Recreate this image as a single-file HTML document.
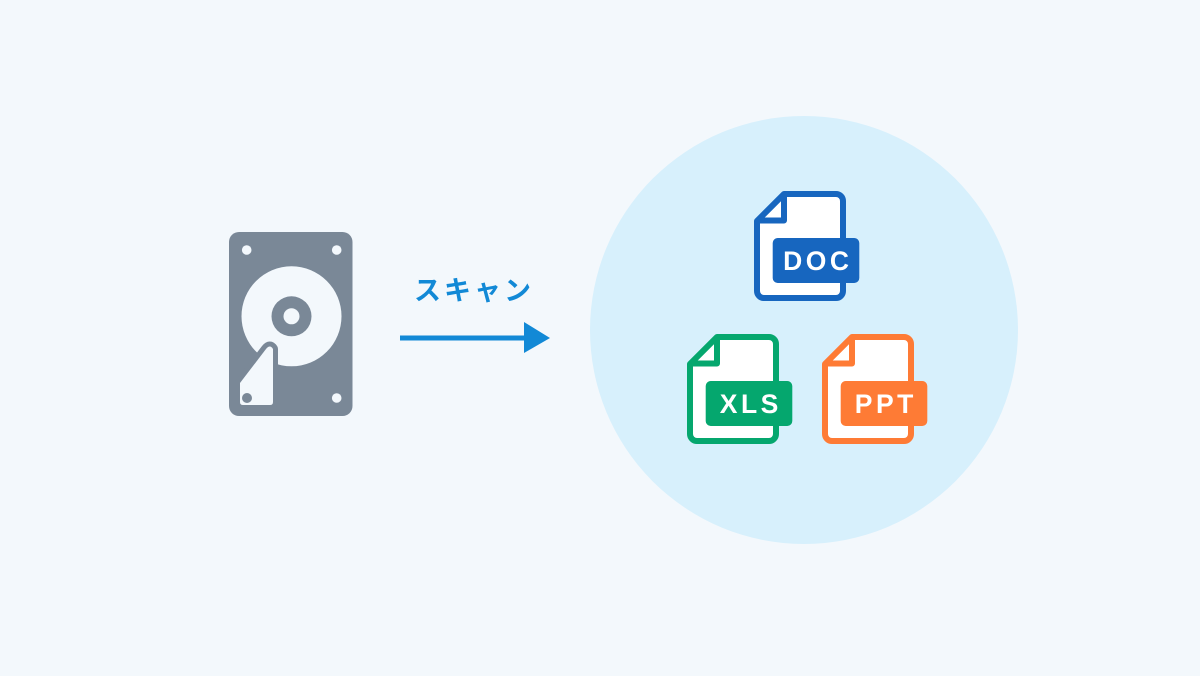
<!DOCTYPE html>
<html>
<head>
<meta charset="utf-8">
<style>
  html, body { margin: 0; padding: 0; }
  body { width: 1200px; height: 676px; background: #f3f8fc; overflow: hidden; }
  svg { display: block; }
  .lbl { font-family: "Liberation Sans", Arial, sans-serif; font-weight: bold; font-size: 26.5px; fill: #ffffff; letter-spacing: 3.5px; }
  .jp { font-family: "Liberation Sans", "Noto Sans CJK JP", sans-serif; font-weight: bold; font-size: 27px; fill: #1289d6; letter-spacing: 3px; }
</style>
</head>
<body>
<svg width="1200" height="676" viewBox="0 0 1200 676" xmlns="http://www.w3.org/2000/svg">
  <rect x="0" y="0" width="1200" height="676" fill="#f3f8fc"/>

  <!-- HDD -->
  <rect x="229" y="232" width="123.5" height="184" rx="10" ry="10" fill="#7a8897"/>
  <circle cx="246.7" cy="250" r="4.8" fill="#f3f8fc"/>
  <circle cx="336.7" cy="250" r="4.8" fill="#f3f8fc"/>
  <circle cx="336.7" cy="398" r="4.8" fill="#f3f8fc"/>
  <circle cx="291.5" cy="316.3" r="50" fill="#f3f8fc"/>
  <circle cx="291.5" cy="316.3" r="20" fill="#7a8897"/>
  <circle cx="291.5" cy="316.3" r="8" fill="#f3f8fc"/>
  <!-- arm gap -->
  <path d="M240,383 L266,349 Q270,344 273,349 L273,402 Q273,405 270,405 L243,405 Q240,405 240,402 Z" fill="#7a8897" stroke="#7a8897" stroke-width="10" stroke-linejoin="round"/>
  <!-- arm -->
  <path d="M240,383 L266,349 Q270,344 273,349 L273,402 Q273,405 270,405 L243,405 Q240,405 240,402 Z" fill="#f3f8fc"/>
  <circle cx="247" cy="398" r="5" fill="#7a8897"/>

  <!-- arrow -->
  <text class="jp" x="474" y="300" text-anchor="middle">スキャン</text>
  <rect x="400" y="335.5" width="126" height="5" fill="#1289d6"/>
  <polygon points="524,322 550,338 524,353" fill="#1289d6"/>

  <!-- circle -->
  <circle cx="804" cy="330" r="214" fill="#d7f0fc"/>

  <!-- DOC -->
  <g transform="translate(754,191)">
    <path d="M30,3 H82 A7,7 0 0 1 89,10 V100 A7,7 0 0 1 82,107 H10 A7,7 0 0 1 3,100 V30 Z" fill="#ffffff" stroke="#1766bf" stroke-width="6" stroke-linejoin="round"/>
    <path d="M3,29.5 H30 V3" fill="none" stroke="#1766bf" stroke-width="6" stroke-linejoin="round"/>
    <rect x="18.7" y="47" width="86.6" height="45" rx="5" ry="5" fill="#1766bf"/>
    <text class="lbl" x="63.8" y="79" text-anchor="middle">DOC</text>
  </g>

  <!-- XLS -->
  <g transform="translate(687,334)">
    <path d="M30,3 H82 A7,7 0 0 1 89,10 V100 A7,7 0 0 1 82,107 H10 A7,7 0 0 1 3,100 V30 Z" fill="#ffffff" stroke="#05a76e" stroke-width="6" stroke-linejoin="round"/>
    <path d="M3,29.5 H30 V3" fill="none" stroke="#05a76e" stroke-width="6" stroke-linejoin="round"/>
    <rect x="18.7" y="47" width="86.6" height="45" rx="5" ry="5" fill="#05a76e"/>
    <text class="lbl" x="63.8" y="79" text-anchor="middle">XLS</text>
  </g>

  <!-- PPT -->
  <g transform="translate(822,334)">
    <path d="M30,3 H82 A7,7 0 0 1 89,10 V100 A7,7 0 0 1 82,107 H10 A7,7 0 0 1 3,100 V30 Z" fill="#ffffff" stroke="#fe7b35" stroke-width="6" stroke-linejoin="round"/>
    <path d="M3,29.5 H30 V3" fill="none" stroke="#fe7b35" stroke-width="6" stroke-linejoin="round"/>
    <rect x="18.7" y="47" width="86.6" height="45" rx="5" ry="5" fill="#fe7b35"/>
    <text class="lbl" x="63.8" y="79" text-anchor="middle">PPT</text>
  </g>
</svg>
</body>
</html>
